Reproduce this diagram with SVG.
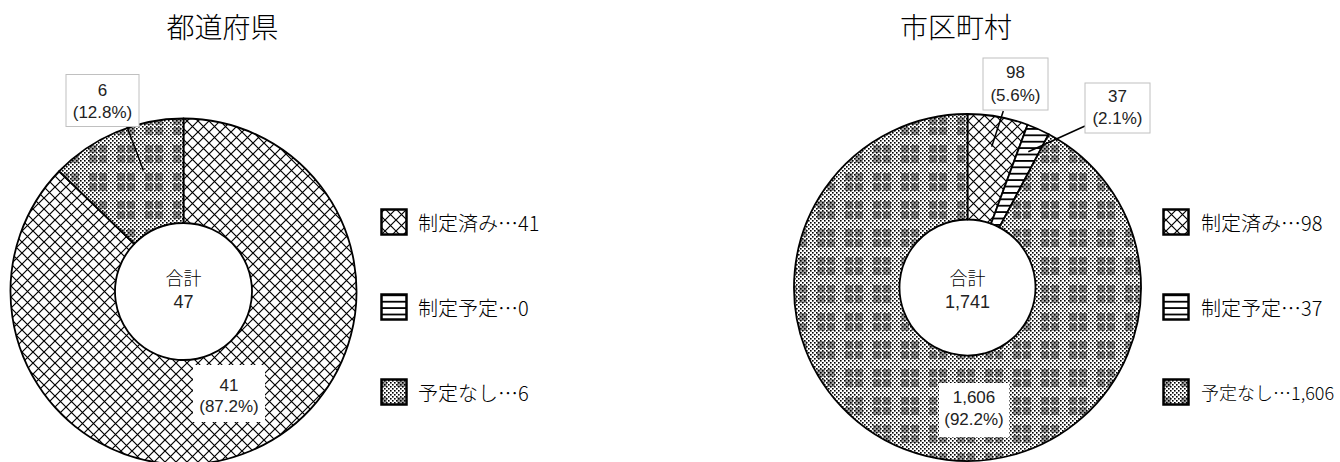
<svg xmlns="http://www.w3.org/2000/svg" width="1340" height="462" viewBox="0 0 1340 462">
<defs>
<style>
.t{font-family:"Noto Sans CJK JP","Noto Sans",sans-serif;fill:#000;dominant-baseline:central}
.n{font-family:"Liberation Sans","Noto Sans",sans-serif;fill:#222;dominant-baseline:central}
.title{font-size:28px;font-weight:300;text-anchor:middle}
.leg{font-size:20px;font-weight:300}
.lab{font-size:17px;text-anchor:middle}
.ctr{font-size:18px;font-weight:300;text-anchor:middle}
.slice{stroke:#000;stroke-width:1.8;stroke-linejoin:round}
.box{fill:#fff;stroke:#c0c0c0;stroke-width:1}
.wbox{fill:#fff;stroke:none}
.key{stroke:#000;stroke-width:2.5}
.lead{stroke:#000;stroke-width:1.5;fill:none}
</style>
<pattern id="pDone" width="11" height="11" patternUnits="userSpaceOnUse">
<rect width="11" height="11" fill="#fff"/>
<path d="M-1 -1L12 12M12 -1L-1 12" stroke="#000" stroke-width="1.2"/>
</pattern>
<pattern id="pPlan" width="8" height="6.4" patternUnits="userSpaceOnUse">
<rect width="8" height="6.4" fill="#fff"/>
<rect width="8" height="1.8" fill="#000"/>
</pattern>
<pattern id="pDots" width="4" height="4" patternUnits="userSpaceOnUse">
<rect width="1.6" height="1.6" fill="#000"/>
<rect x="2" y="2" width="1.6" height="1.6" fill="#000"/>
</pattern>
<pattern id="pNone" width="28" height="28" patternUnits="userSpaceOnUse">
<rect width="28" height="28" fill="#fff"/>
<rect x="5" y="5" width="18" height="18" fill="#a0a0a0"/>
<rect x="5" y="13" width="18" height="2" fill="#fff"/>
<rect x="13" y="5" width="2" height="18" fill="#fff"/>
<rect width="28" height="28" fill="url(#pDots)"/>
</pattern>
</defs>
<rect width="1340" height="462" fill="#fff"/>

<g id="titles">
<text class="t title" x="222.5" y="26">都道府県</text>
<text class="t title" x="956" y="26">市区町村</text>
</g>

<g id="pref-chart">
<path id="pref-done" class="slice" fill="url(#pDone)" d="M183.5 118.5A173 173 0 1 1 59.13 171.25L134.26 243.89A68.5 68.5 0 1 0 183.5 223Z"/>
<path id="pref-none" class="slice" fill="url(#pNone)" d="M59.13 171.25A173 173 0 0 1 183.5 118.5L183.5 223A68.5 68.5 0 0 0 134.26 243.89Z"/>
<g id="pref-total">
<text class="t ctr" x="183.5" y="277">合計</text>
<text class="n ctr" x="183.5" y="301.5">47</text>
</g>
</g>

<g id="muni-chart">
<path id="muni-done" class="slice" fill="url(#pDone)" d="M967.5 114A173.5 173.5 0 0 1 1027.58 124.74L991.05 223.71A68 68 0 0 0 967.5 219.5Z"/>
<path id="muni-plan" class="slice" fill="url(#pPlan)" d="M1027.58 124.74A173.5 173.5 0 0 1 1048.75 134.2L999.34 227.42A68 68 0 0 0 991.05 223.71Z"/>
<path id="muni-none" class="slice" fill="url(#pNone)" d="M1048.75 134.2A173.5 173.5 0 1 1 967.5 114L967.5 219.5A68 68 0 1 0 999.34 227.42Z"/>
<g id="muni-total">
<text class="t ctr" x="967.5" y="276.5">合計</text>
<text class="n ctr" x="967.5" y="301.5">1,741</text>
</g>
</g>

<g id="connectors">
<line class="lead" x1="126.7" y1="126" x2="143.3" y2="170"/>
<line class="lead" x1="1003.3" y1="111" x2="991.7" y2="146.7"/>
<line class="lead" x1="1085" y1="126" x2="1028.3" y2="151.7"/>
</g>

<g id="label-pref-none">
<rect class="box" x="66" y="74.5" width="73" height="52"/>
<text class="n lab" x="102.5" y="90">6</text>
<text class="n lab" x="102.5" y="112.5">(12.8%)</text>
</g>
<g id="label-pref-done">
<rect class="wbox" x="193" y="365" width="72" height="57"/>
<text class="n lab" x="229" y="385">41</text>
<text class="n lab" x="229" y="406">(87.2%)</text>
</g>
<g id="label-muni-done">
<rect class="box" x="983" y="58" width="65" height="52"/>
<text class="n lab" x="1015.5" y="72.5">98</text>
<text class="n lab" x="1015.5" y="95">(5.6%)</text>
</g>
<g id="label-muni-plan">
<rect class="box" x="1085" y="83" width="65" height="50"/>
<text class="n lab" x="1117.5" y="96.5">37</text>
<text class="n lab" x="1117.5" y="118.5">(2.1%)</text>
</g>
<g id="label-muni-none">
<rect class="wbox" x="939" y="383" width="70" height="54"/>
<text class="n lab" x="974" y="397.5">1,606</text>
<text class="n lab" x="974" y="419">(92.2%)</text>
</g>

<g id="legend-pref">
<g id="leg-pref-done"><rect class="key" x="381.5" y="209.5" width="25" height="25" fill="url(#pDone)"/><text class="t leg" x="418" y="222">制定済み…41</text></g>
<g id="leg-pref-plan"><rect class="key" x="381.5" y="294.5" width="25" height="25" fill="url(#pPlan)"/><text class="t leg" x="418" y="307">制定予定…0</text></g>
<g id="leg-pref-none"><rect class="key" x="381.5" y="379.5" width="25" height="25" fill="url(#pNone)"/><text class="t leg" x="418" y="392">予定なし…6</text></g>
</g>
<g id="legend-muni">
<g id="leg-muni-done"><rect class="key" x="1163.5" y="209.5" width="25" height="25" fill="url(#pDone)"/><text class="t leg" x="1201" y="222">制定済み…98</text></g>
<g id="leg-muni-plan"><rect class="key" x="1163.5" y="294.5" width="25" height="25" fill="url(#pPlan)"/><text class="t leg" x="1201" y="307">制定予定…37</text></g>
<g id="leg-muni-none"><rect class="key" x="1163.5" y="379.5" width="25" height="25" fill="url(#pNone)"/><text class="t leg" x="1201" y="392" style="font-size:18px">予定なし…1,606</text></g>
</g>
</svg>
